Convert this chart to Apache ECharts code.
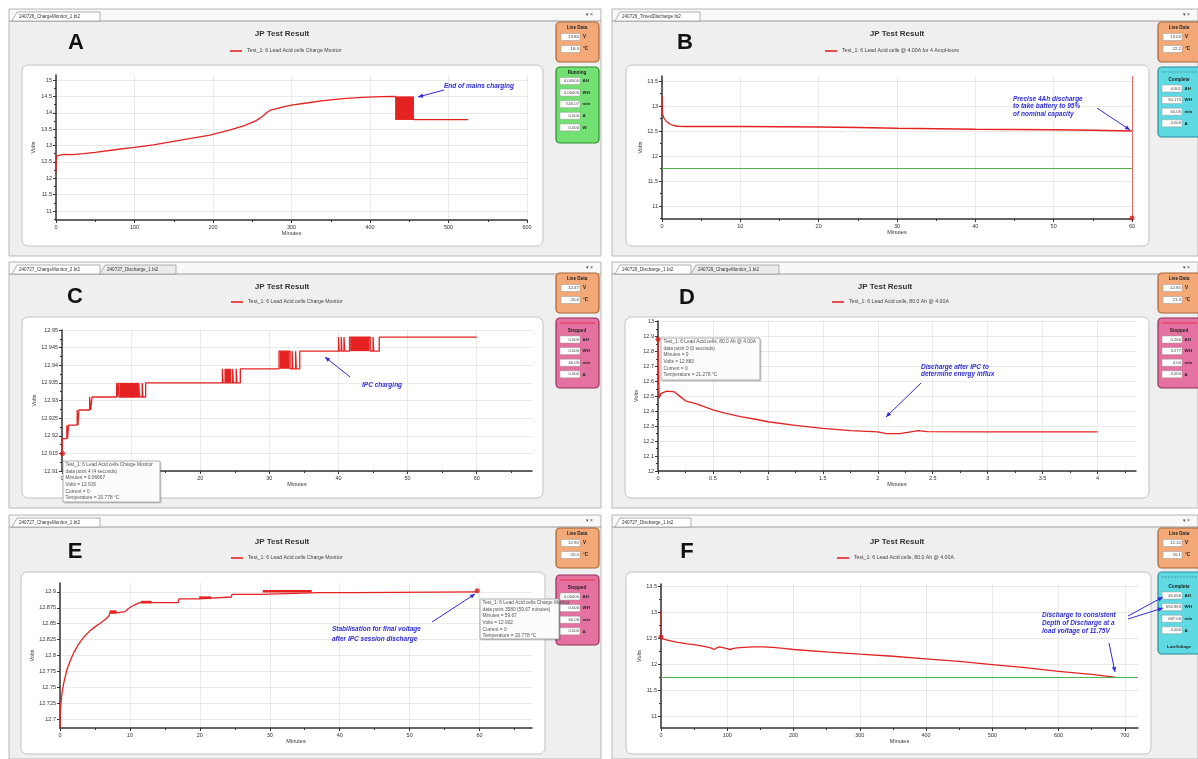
<!DOCTYPE html>
<html><head><meta charset="utf-8">
<script src="https://cdn.jsdelivr.net/npm/echarts@6/dist/echarts.min.js"></script>
<style>html,body{margin:0;padding:0;background:#fff}#c{width:1198px;height:759px}</style>
</head><body><div id="c"></div><script>
// ================= DATA =================
const nameCharge = 'Test_1: 6 Lead Acid cells Charge Monitor';
const nameTimed  = 'Test_1: 6 Lead Acid cells @ 4.00A for 4 AmpHours';
const nameDisch  = 'Test_1: 6 Lead Acid cells, 80.0 Ah @ 4.00A';

// Panel A - mains charge (minutes, volts)
const aCurve = [[0,12.21],[0.3,12.55],[1,12.68],[3,12.74],[10,12.73],[21,12.72],[35,12.75],[50,12.79],[75,12.87],[100,12.94],[124,13.02],[148,13.12],[172,13.22],[196,13.32],[221,13.47],[240,13.61],[255,13.76],[262,13.87],[268,13.99],[272,14.07],[280,14.12],[288,14.17],[300,14.23],[317,14.29],[341,14.37],[366,14.43],[390,14.47],[414,14.49],[432,14.5],[456,13.79],[525,13.79]];
const aBurst = [[432,13.78],[456,14.5]];
const aXTicks = [0,100,200,300,400,500,600];
const aYTicks = [11,11.5,12,12.5,13,13.5,14,14.5,15];

// Panel B - timed 4Ah discharge
const bCurve = [[0,13.2],[0.05,12.85],[0.2,12.77],[0.5,12.7],[1,12.64],[1.5,12.61],[2,12.595],[3,12.59],[5,12.59],[10,12.59],[15,12.585],[20,12.58],[25,12.57],[30,12.555],[35,12.545],[40,12.535],[45,12.53],[50,12.525],[55,12.515],[60,12.5]];
const bEndMinute = 60;
const bEndMarker = [60,10.76];
const lowVoltageLimit = 11.75;
const bXTicks = [0,10,20,30,40,50,60];
const bYTicks = [11,11.5,12,12.5,13,13.5];

// Panel C - IPC charging steps
const cCurve = [[0,12.915],[0.05,12.9192],[0.7,12.9192],[0.7,12.923],[0.8,12.923],[0.8,12.9192],[0.95,12.9192],[0.95,12.923],
 [2.2,12.923],[2.2,12.9273],[2.3,12.9273],[2.3,12.923],[2.45,12.923],[2.45,12.9273],
 [4.0,12.9273],[4.0,12.931],[4.15,12.931],[4.15,12.9273],[4.35,12.9273],[4.35,12.931],
 [7.9,12.931],[7.9,12.935],[8.0,12.935],[8.0,12.931],[8.15,12.931],[8.15,12.935],[8.25,12.935],[8.25,12.931],
 [11.1,12.931],[11.1,12.935],[11.25,12.935],[11.25,12.931],[11.6,12.931],[11.6,12.935],[11.7,12.935],[11.7,12.931],[12.1,12.931],[12.1,12.935],
 [23.2,12.935],[23.2,12.939],[23.3,12.939],[23.3,12.935],
 [24.7,12.935],[24.7,12.939],[24.8,12.939],[24.8,12.935],[25.2,12.935],[25.2,12.939],[25.3,12.939],[25.3,12.935],[25.8,12.935],[25.8,12.939],
 [31.4,12.939],[31.4,12.944],[33.0,12.944],[33.0,12.939],[33.3,12.939],[33.3,12.944],[33.4,12.944],[33.4,12.939],[33.8,12.939],[33.8,12.944],[33.9,12.944],[33.9,12.939],[34.4,12.939],[34.4,12.944],
 [40.0,12.944],[40.0,12.948],[40.1,12.948],[40.1,12.944],[40.4,12.944],[40.4,12.948],[40.5,12.948],[40.5,12.944],[40.8,12.944],[40.8,12.948],[40.9,12.948],[40.9,12.944],[41.6,12.944],[41.6,12.948],
 [44.6,12.948],[44.6,12.944],[45.0,12.944],[45.0,12.948],[45.1,12.948],[45.1,12.944],[45.9,12.944],[45.9,12.948],[60,12.948]];
const cBursts = [[[8.3,12.931],[11.0,12.935]],[[23.5,12.935],[24.5,12.939]],[[31.5,12.939],[32.9,12.944]],[[41.7,12.944],[44.5,12.948]]];
const cMarker = [0.0667,12.915];
const cXTicks = [0,10,20,30,40,50,60];
const cYTicks = [12.91,12.915,12.92,12.925,12.93,12.935,12.94,12.945,12.95];

// Panel D - discharge after IPC
const dCurve = [[0,12.883],[0.01,12.49],[0.03,12.52],[0.08,12.535],[0.15,12.53],[0.2,12.5],[0.25,12.47],[0.35,12.45],[0.5,12.41],[0.6,12.39],[0.75,12.365],[0.9,12.345],[1.0,12.33],[1.25,12.305],[1.5,12.285],[1.75,12.27],[2.0,12.262],[2.08,12.25],[2.2,12.25],[2.3,12.262],[2.37,12.27],[2.45,12.264],[3.0,12.262],[3.5,12.262],[4.0,12.262]];
const dMarker = [0,12.883];
const dXTicks = [0,0.5,1,1.5,2,2.5,3,3.5,4];
const dYTicks = [12,12.1,12.2,12.3,12.4,12.5,12.6,12.7,12.8,12.9,13];

// Panel E - stabilisation
const eCurve = [[0,12.686],[0.05,12.712],[0.15,12.727],[0.3,12.742],[0.6,12.76],[1.0,12.778],[1.5,12.793],[2.0,12.805],[2.5,12.815],[3.0,12.823],[3.5,12.83],[4.2,12.838],[5.0,12.845],[5.8,12.851],[6.5,12.857],[7.0,12.862],[7.1,12.867],[8.1,12.867],[8.3,12.869],[9.3,12.869],[9.7,12.873],[10.2,12.877],[10.8,12.88],[11.4,12.883],[16.9,12.883],[17.0,12.889],[19.9,12.889],[20.0,12.892],[24.5,12.892],[24.6,12.896],[28.8,12.896],[28.9,12.899],
 [37.1,12.899],[37.1,12.902],[37.2,12.902],[37.2,12.899],[38.4,12.899],[38.4,12.902],[38.5,12.902],[38.5,12.899],[42.0,12.899],[42.0,12.902],[42.1,12.902],[42.1,12.899],[59.67,12.9]];
const eBursts = [[[7.1,12.866],[8.1,12.871]],[[11.6,12.882],[13.1,12.886]],[[19.9,12.889],[21.6,12.893]],[[29.0,12.899],[36.0,12.903]]];
const eMarker = [59.67,12.902];
const eXTicks = [0,10,20,30,40,50,60];
const eYTicks = [12.7,12.725,12.75,12.775,12.8,12.825,12.85,12.875,12.9];

// Panel F - full discharge to 11.75 V
const fCurve = [[0,13.02],[0.5,12.52],[3,12.48],[10,12.46],[23,12.42],[40,12.39],[52,12.37],[65,12.34],[75,12.31],[80,12.28],[84,12.31],[88,12.33],[92,12.32],[98,12.3],[104,12.28],[110,12.3],[115,12.31],[125,12.32],[139,12.33],[155,12.33],[168,12.32],[185,12.3],[200,12.28],[254,12.23],[300,12.19],[350,12.15],[400,12.1],[450,12.05],[500,11.99],[550,11.93],[600,11.86],[650,11.8],[685,11.75]];
const fMarker = [0,12.52];
const fXTicks = [0,100,200,300,400,500,600,700];
const fYTicks = [11,11.5,12,12.5,13,13.5];

// Side-box readouts
const liveData = [['13.80','18.4'],['13.03','22.2'],['12.47','20.6'],['12.65','21.3'],['12.90','20.0'],['12.10','20.1']];
const statusTitles = ['Running','Complete','Stopped','Stopped','Stopped','Complete'];
const statusRows = [
 [['0.00000','AH'],['0.00000','WH'],['526.07','min'],['0.000','A'],['0.000','W']],
 [['4.001','AH'],['50.175','WH'],['60.05','min'],['4.000','A']],
 [['0.000','AH'],['0.000','WH'],['60.00','min'],['0.000','A']],
 [['0.266','AH'],['3.277','WH'],['4.00','min'],['4.000','A']],
 [['0.00000','AH'],['0.000','WH'],['60.00','min'],['0.000','A']],
 [['45.056','AH'],['555.963','WH'],['687.00','min'],['4.000','A']]
];
const tooltipC = ['Test_1: 6 Lead Acid cells Charge Monitor','data point 4 (4 seconds)','Minutes = 0.06667','Volts = 12.915','Current = 0','Temperature = 20.778 °C'];
const tooltipD = ['Test_1: 6 Lead Acid cells, 80.0 Ah @ 4.00A','data point 0 (0 seconds)','Minutes = 0','Volts = 12.883','Current = 0','Temperature = 21.278 °C'];
const tooltipE = ['Test_1: 6 Lead Acid cells Charge Monitor','data point 3580 (59.67 minutes)','Minutes = 59.67','Volts = 12.902','Current = 0','Temperature = 20.778 °C'];

// ================= LAYOUT / STYLE =================
const FONT = "'Liberation Sans', Arial, sans-serif";
const RED = '#e42222';
const BLUE = '#2e2ed6';
const GREEN = '#4fb24f';

const panels = [
 {x:9,y:9,w:592,h:247,tabs:['240726_ChargeMonitor_1.bt2'],letter:'A',lx:76,ly:43,tx:282,ty:34,box:[22,65,521,181],sx:556,live:22,stat:67,statH:76,col:'green',legendX:230,legendY:52,name:nameCharge},
 {x:612,y:9,w:586,h:247,tabs:['240726_TimedDischarge.bt2'],letter:'B',lx:685,ly:43,tx:897,ty:34,box:[626,65,523,181],sx:1158,live:22,stat:67,statH:70,col:'cyan',legendX:825,legendY:52,name:nameTimed},
 {x:9,y:262,w:592,h:246,tabs:['240727_ChargeMonitor_2.bt2','240727_Discharge_1.bt2'],letter:'C',lx:75,ly:297,tx:282,ty:287,box:[22,317,521,181],sx:556,live:273,stat:318,statH:70,col:'pink',legendX:231,legendY:303,name:nameCharge},
 {x:612,y:262,w:586,h:246,tabs:['240729_Discharge_1.bt2','240729_ChargeMonitor_1.bt2'],letter:'D',lx:687,ly:298,tx:885,ty:287,box:[625,317,524,181],sx:1158,live:273,stat:318,statH:70,col:'pink',legendX:832,legendY:303,name:nameDisch},
 {x:9,y:515,w:592,h:244,tabs:['240727_ChargeMonitor_1.bt2'],letter:'E',lx:75,ly:552,tx:282,ty:542,box:[21,572,524,182],sx:556,live:528,stat:575,statH:70,col:'pink',legendX:231,legendY:559,name:nameCharge},
 {x:612,y:515,w:586,h:244,tabs:['240727_Discharge_1.bt2'],letter:'F',lx:687,ly:552,tx:897,ty:542,box:[626,572,525,182],sx:1158,live:528,stat:572,statH:82,col:'cyan',legendX:837,legendY:559,name:nameDisch}
];
const boxColors = {
 orange:{fill:'#f2a877',stroke:'#a86432'},
 green:{fill:'#72e072',stroke:'#2c8c2c'},
 cyan:{fill:'#5fd9e2',stroke:'#2a8c96'},
 pink:{fill:'#e4719f',stroke:'#93305a'}
};

const G = [];
function rect(x,y,w,h,style,z,r){G.push({type:'rect',shape:{x:x,y:y,width:w,height:h,r:r||0},style:style,z:z,silent:true});}
function txt(x,y,t,st,z){
  const s=Object.assign({text:t,fontFamily:FONT,fill:'#222',fontSize:6,align:'left',verticalAlign:'middle'},st);
  s.textAlign=s.align; s.textVerticalAlign=s.verticalAlign;
  G.push({type:'text',x:x,y:y,style:s,z:z,silent:true});
}
function seg(x1,y1,x2,y2,st,z){G.push({type:'line',shape:{x1:x1,y1:y1,x2:x2,y2:y2},style:st,z:z,silent:true});}
function arrow(x1,y1,x2,y2){
  seg(x1,y1,x2,y2,{stroke:BLUE,lineWidth:1},100);
  const a=Math.atan2(y2-y1,x2-x1),L=5,W=2.2;
  const bx=x2-L*Math.cos(a),by=y2-L*Math.sin(a),px=-Math.sin(a)*W,py=Math.cos(a)*W;
  G.push({type:'polygon',shape:{points:[[x2,y2],[bx+px,by+py],[bx-px,by-py]]},style:{fill:BLUE},z:100,silent:true});
}
function note(x,y,lines,step){lines.forEach((l,i)=>txt(x,y+i*step,l,{fill:BLUE,fontSize:6.5,fontWeight:'bold',fontStyle:'italic'},100));}
function tip(x,y,w,h,lines){
  rect(x+1.5,y+1.5,w,h,{fill:'rgba(0,0,0,0.18)'},98);
  rect(x,y,w,h,{fill:'#fbfbfb',stroke:'#9a9a9a',lineWidth:0.8},99);
  lines.forEach((l,i)=>txt(x+2.5,y+3.8+i*6.6,l,{fill:'#555',fontSize:4.8},100));
}

panels.forEach((p,i)=>{
  rect(p.x,p.y,p.w,p.h,{fill:'#efefef',stroke:'#b8b8b8',lineWidth:1},-30);
  rect(p.x+1,p.y+1,p.w-2,11,{fill:'#f8f8f8'},-29);
  seg(p.x,p.y+12,p.x+p.w,p.y+12,{stroke:'#9c9c9c',lineWidth:1},-28);
  let tx=p.x+3;
  p.tabs.forEach((t,k)=>{
    const w=t.length*3.0+10;
    G.push({type:'polygon',shape:{points:[[tx,p.y+12],[tx+5,p.y+3],[tx+w,p.y+3],[tx+w,p.y+12]]},style:{fill:k===0?'#ffffff':'#ececec',stroke:'#9c9c9c',lineWidth:0.8},z:-27,silent:true});
    txt(tx+7,p.y+8,t,{fontSize:4.6,fill:'#333'},-26);
    tx+=w;
  });
  txt(p.x+p.w-8,p.y+6,'▾ ×',{fontSize:5,fill:'#444',align:'right'},-26);
  const b=p.box;
  rect(b[0],b[1],b[2],b[3],{fill:'#ffffff',stroke:'#c2c2c2',lineWidth:1},-20,6);
  txt(p.lx,p.ly,p.letter,{fontSize:22,fontWeight:'bold',fill:'#111',align:'center',fontFamily:"'Liberation Sans Narrow','Liberation Sans',Arial,sans-serif"},-10);
  txt(p.tx,p.ty,'JP Test Result',{fontSize:8,fontWeight:'bold',fill:'#333',align:'center'},-10);
  const o=boxColors.orange;
  rect(p.sx,p.live,43,40,{fill:o.fill,stroke:o.stroke,lineWidth:1.2},-10,4);
  txt(p.sx+21,p.live+6,'Live Data',{fontSize:4.6,fontWeight:'bold',align:'center'},-9);
  [['V',15],['°C',27]].forEach((u,k)=>{
    rect(p.sx+5,p.live+u[1]-3.5,19,7,{fill:'#fff',stroke:'#999',lineWidth:0.5},-9);
    txt(p.sx+23,p.live+u[1],liveData[i][k],{fontSize:4.4,align:'right',fill:'#444'},-8);
    txt(p.sx+27,p.live+u[1],u[0],{fontSize:4.6,fontWeight:'bold'},-8);
  });
  const c=boxColors[p.col];
  rect(p.sx,p.stat,43,p.statH,{fill:c.fill,stroke:c.stroke,lineWidth:1.2},-10,4);
  let ty0=p.stat+6, rowStart=p.stat+14;
  if(p.col!=='green'){
    seg(p.sx+4,p.stat+5,p.sx+39,p.stat+5,{stroke:p.col==='pink'?'#e8203a':'#3a8f98',lineWidth:0.8,lineDash:p.col==='pink'?null:[2,1]},-9);
    ty0=p.stat+(p.col==='cyan'&&i===5?15:13); rowStart=ty0+8.5;
  }
  txt(p.sx+21,ty0,statusTitles[i],{fontSize:4.6,fontWeight:'bold',align:'center'},-9);
  statusRows[i].forEach((r,k)=>{
    const yy=rowStart+k*11.6;
    rect(p.sx+4,yy-3.5,20,7,{fill:'#fff',stroke:'#999',lineWidth:0.5},-9);
    txt(p.sx+23,yy,r[0],{fontSize:4.2,align:'right',fill:'#444'},-8);
    txt(p.sx+26.5,yy,r[1],{fontSize:4.4,fontWeight:'bold'},-8);
  });
  if(i===5) txt(p.sx+21,p.stat+75,'LowVoltage',{fontSize:4.3,fontWeight:'bold',align:'center'},-8);
});

note(444,86,['End of mains charging'],8); arrow(444,90,418,97);
note(1013,99,['Precise 4Ah discharge','to take battery to 95%','of nominal capacity'],7.6); arrow(1097,108,1130,130);
note(362,385,['IPC charging'],8); arrow(350,377,325,357);
note(921,367,['Discharge after IPC to','determine energy influx'],7.4); arrow(921,383,886,417);
note(332,629,['Stabilisation for final voltage','after IPC session discharge'],10); arrow(432,622,475,594);
note(1042,615,['Discharge to consistent','Depth of Discharge at a','load voltage of 11.75V'],8); arrow(1128,616,1163,597); arrow(1128,619,1163,608); arrow(1109,643,1115,672);
tip(63,461,97,41,tooltipC);
tip(661,338,99,42,tooltipD);
tip(480,599,79,40,tooltipE);

// ================= AXES =================
const grids = [
 {left:56,top:75,width:471,height:145},
 {left:662,top:76,width:470,height:143},
 {left:62,top:330,width:470,height:141},
 {left:658,top:321,width:478,height:150},
 {left:60,top:583,width:472,height:145},
 {left:661,top:584,width:477,height:144}
];
const xCfg = [[600,aXTicks,6],[60,bXTicks,6],[68,cXTicks,7],[4.35,dXTicks,9],[67.5,eXTicks,7],[720,fXTicks,7]];
const yCfg = [[10.725,15.153,aYTicks,9,20,true],[10.74,13.6,bYTicks,6,19,true],[12.91,12.95,cYTicks,8,23,true],[12,13.005,dYTicks,10,19,true],[12.686,12.914,eYTicks,9,25,false],[10.77,13.54,fYTicks,6,16,true]];
const fmt = v => String(+(+v).toFixed(4));
const lab = {fontSize:5.5,color:'#333',fontFamily:FONT};
const xAxis = xCfg.map((c,i)=>({type:'value',gridIndex:i,min:0,max:c[0],splitNumber:c[2],
  name:'Minutes',nameLocation:'middle',nameGap:10,nameTextStyle:lab,
  axisLine:{onZero:false,lineStyle:{color:'#333',width:1.5}},
  axisTick:{customValues:c[1],length:3,lineStyle:{color:'#333'}},
  minorTick:{show:true,splitNumber:2,length:2,lineStyle:{color:'#333'}},
  axisLabel:Object.assign({customValues:c[1],margin:4,formatter:fmt},lab),
  splitLine:{show:true,lineStyle:{color:'#e4e4e4',width:0.8}}}));
const yAxis = yCfg.map((c,i)=>({type:'value',gridIndex:i,min:c[0],max:c[1],splitNumber:c[3],
  name:'Volts',nameLocation:'middle',nameGap:c[4],nameRotate:90,nameTextStyle:lab,
  axisLine:{onZero:false,lineStyle:{color:'#333',width:1.5}},
  axisTick:{customValues:c[2],length:3,lineStyle:{color:'#333'}},
  minorTick:{show:c[5],splitNumber:2,length:2,lineStyle:{color:'#333'}},
  axisLabel:Object.assign({customValues:c[2],margin:4,formatter:fmt},lab),
  splitLine:{show:true,lineStyle:{color:'#e4e4e4',width:0.8}}}));

// ================= SERIES =================
const ls = {color:RED,width:1.3};
function lineS(i,name,data,extra){return Object.assign({type:'line',name:name,xAxisIndex:i,yAxisIndex:i,data:data,showSymbol:false,symbol:'none',lineStyle:ls,itemStyle:{color:RED},z:3},extra||{});}
function area(list){return {silent:true,itemStyle:{color:RED,opacity:1},data:list.map(r=>[{coord:r[0]},{coord:r[1]}])};}
function dot(i,pt){return {type:'scatter',xAxisIndex:i,yAxisIndex:i,data:[pt],symbolSize:5,itemStyle:{color:'#d41c1c'},z:5,silent:true};}
function limitLine(){return {silent:true,symbol:['none','none'],label:{show:false},lineStyle:{color:GREEN,width:1.1,type:'solid',opacity:1},
  data:[{yAxis:lowVoltageLimit,lineStyle:{color:GREEN,width:1.1,type:'solid',opacity:1}}]};}
const series = [
 lineS(0,nameCharge,aCurve,{markArea:area([aBurst])}),
 lineS(1,nameTimed,bCurve,{markLine:{silent:true,symbol:['none','none'],label:{show:false},data:[
   {xAxis:bEndMinute,lineStyle:{color:'#f06a6a',width:1,type:'solid'}}]}}),
 {type:'line',xAxisIndex:1,yAxisIndex:1,data:[],markLine:limitLine(),z:2},
 dot(1,bEndMarker),
 lineS(2,nameCharge,cCurve,{markArea:area(cBursts)}),
 dot(2,cMarker),
 lineS(3,nameDisch,dCurve),
 dot(3,dMarker),
 lineS(4,nameCharge,eCurve,{markArea:area(eBursts)}),
 dot(4,eMarker),
 lineS(5,nameDisch,fCurve),
 {type:'line',xAxisIndex:5,yAxisIndex:5,data:[],markLine:limitLine(),z:2},
 dot(5,fMarker)
];

const legend = panels.map(p=>({data:[p.name],left:p.legendX,top:p.legendY-3.5,icon:'rect',itemWidth:12,itemHeight:1.6,padding:0,selectedMode:false,
  textStyle:{fontSize:5.2,color:'#444',fontFamily:FONT}}));

const chart = echarts.init(document.getElementById('c'),null,{renderer:'canvas'});
chart.setOption({animation:false,backgroundColor:'#ffffff',grid:grids,xAxis:xAxis,yAxis:yAxis,series:series,legend:legend,graphic:{elements:G}});
</script></body></html>
